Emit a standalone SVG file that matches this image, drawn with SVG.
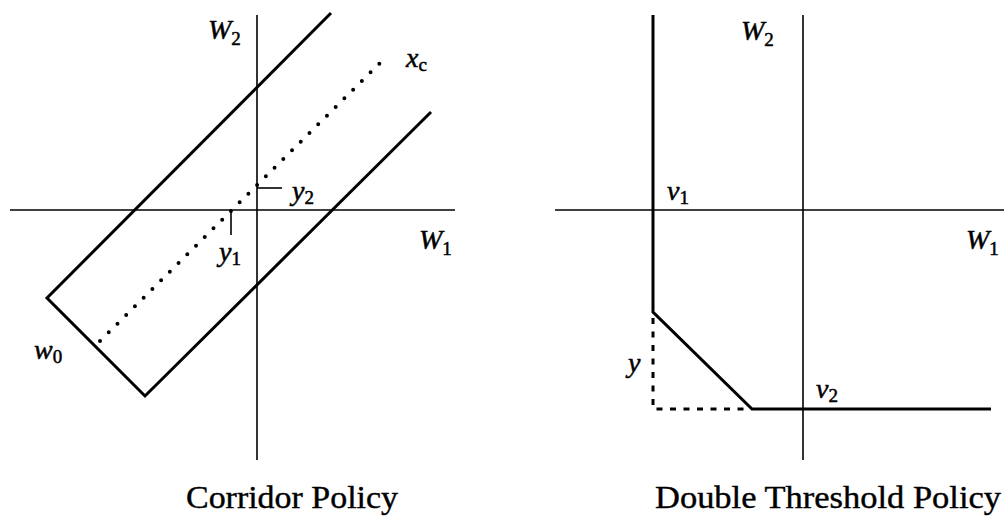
<svg xmlns="http://www.w3.org/2000/svg" width="1004" height="517" viewBox="0 0 1004 517">
<style>
.ax{stroke:#000;stroke-width:1.6;fill:none}
.th{stroke:#000;stroke-width:3;fill:none;stroke-linejoin:miter}
.dot{stroke:#000;stroke-width:4;fill:none;stroke-linecap:round;stroke-dasharray:0 12.3}
.dash{stroke:#000;stroke-width:3;fill:none;stroke-dasharray:6 7.5}
.v{font-family:"Liberation Serif",serif;font-style:italic;font-size:28px;fill:#000;stroke:#000;stroke-width:0.5}
.s{font-style:normal;font-size:19px}
.cap{font-family:"Liberation Serif",serif;font-size:32px;fill:#000;stroke:#000;stroke-width:0.4;text-anchor:middle}
</style>
<rect width="1004" height="517" fill="#fff"/>
<g id="corridor">
<line class="ax" x1="10" y1="210" x2="455" y2="210"/>
<line class="ax" x1="257" y1="15" x2="257" y2="460"/>
<polyline class="th" points="331,13 47,298 145,396 431,112"/>
<line class="dot" x1="100" y1="341" x2="381" y2="62"/>
<line class="ax" x1="257" y1="188" x2="282" y2="188"/>
<line class="ax" x1="231" y1="210" x2="231" y2="235"/>
<text class="v" x="208" y="39">W<tspan class="s" dy="6">2</tspan></text>
<text class="v" x="406" y="67">x<tspan class="s" dy="4">c</tspan></text>
<text class="v" x="292" y="200">y<tspan class="s" dy="4">2</tspan></text>
<text class="v" x="419" y="249">W<tspan class="s" dy="6">1</tspan></text>
<text class="v" x="219" y="261">y<tspan class="s" dy="4">1</tspan></text>
<text class="v" x="34" y="359">w<tspan class="s" dy="4">0</tspan></text>
<text class="cap" x="292" y="508" textLength="212" lengthAdjust="spacingAndGlyphs">Corridor Policy</text>
</g>
<g id="double">
<line class="ax" x1="555" y1="210" x2="1004" y2="210"/>
<line class="ax" x1="803" y1="15" x2="803" y2="460"/>
<polyline class="th" points="653,15 653,312 752,409 991,409"/>
<polyline class="dash" points="653,318 653,409 750,409"/>
<text class="v" x="741" y="40">W<tspan class="s" dy="6">2</tspan></text>
<text class="v" x="667" y="200">v<tspan class="s" dy="4">1</tspan></text>
<text class="v" x="966" y="249">W<tspan class="s" dy="6">1</tspan></text>
<text class="v" x="628" y="372">y</text>
<text class="v" x="816" y="398">v<tspan class="s" dy="4">2</tspan></text>
<text class="cap" x="828" y="508" textLength="346" lengthAdjust="spacingAndGlyphs">Double Threshold Policy</text>
</g>
</svg>
